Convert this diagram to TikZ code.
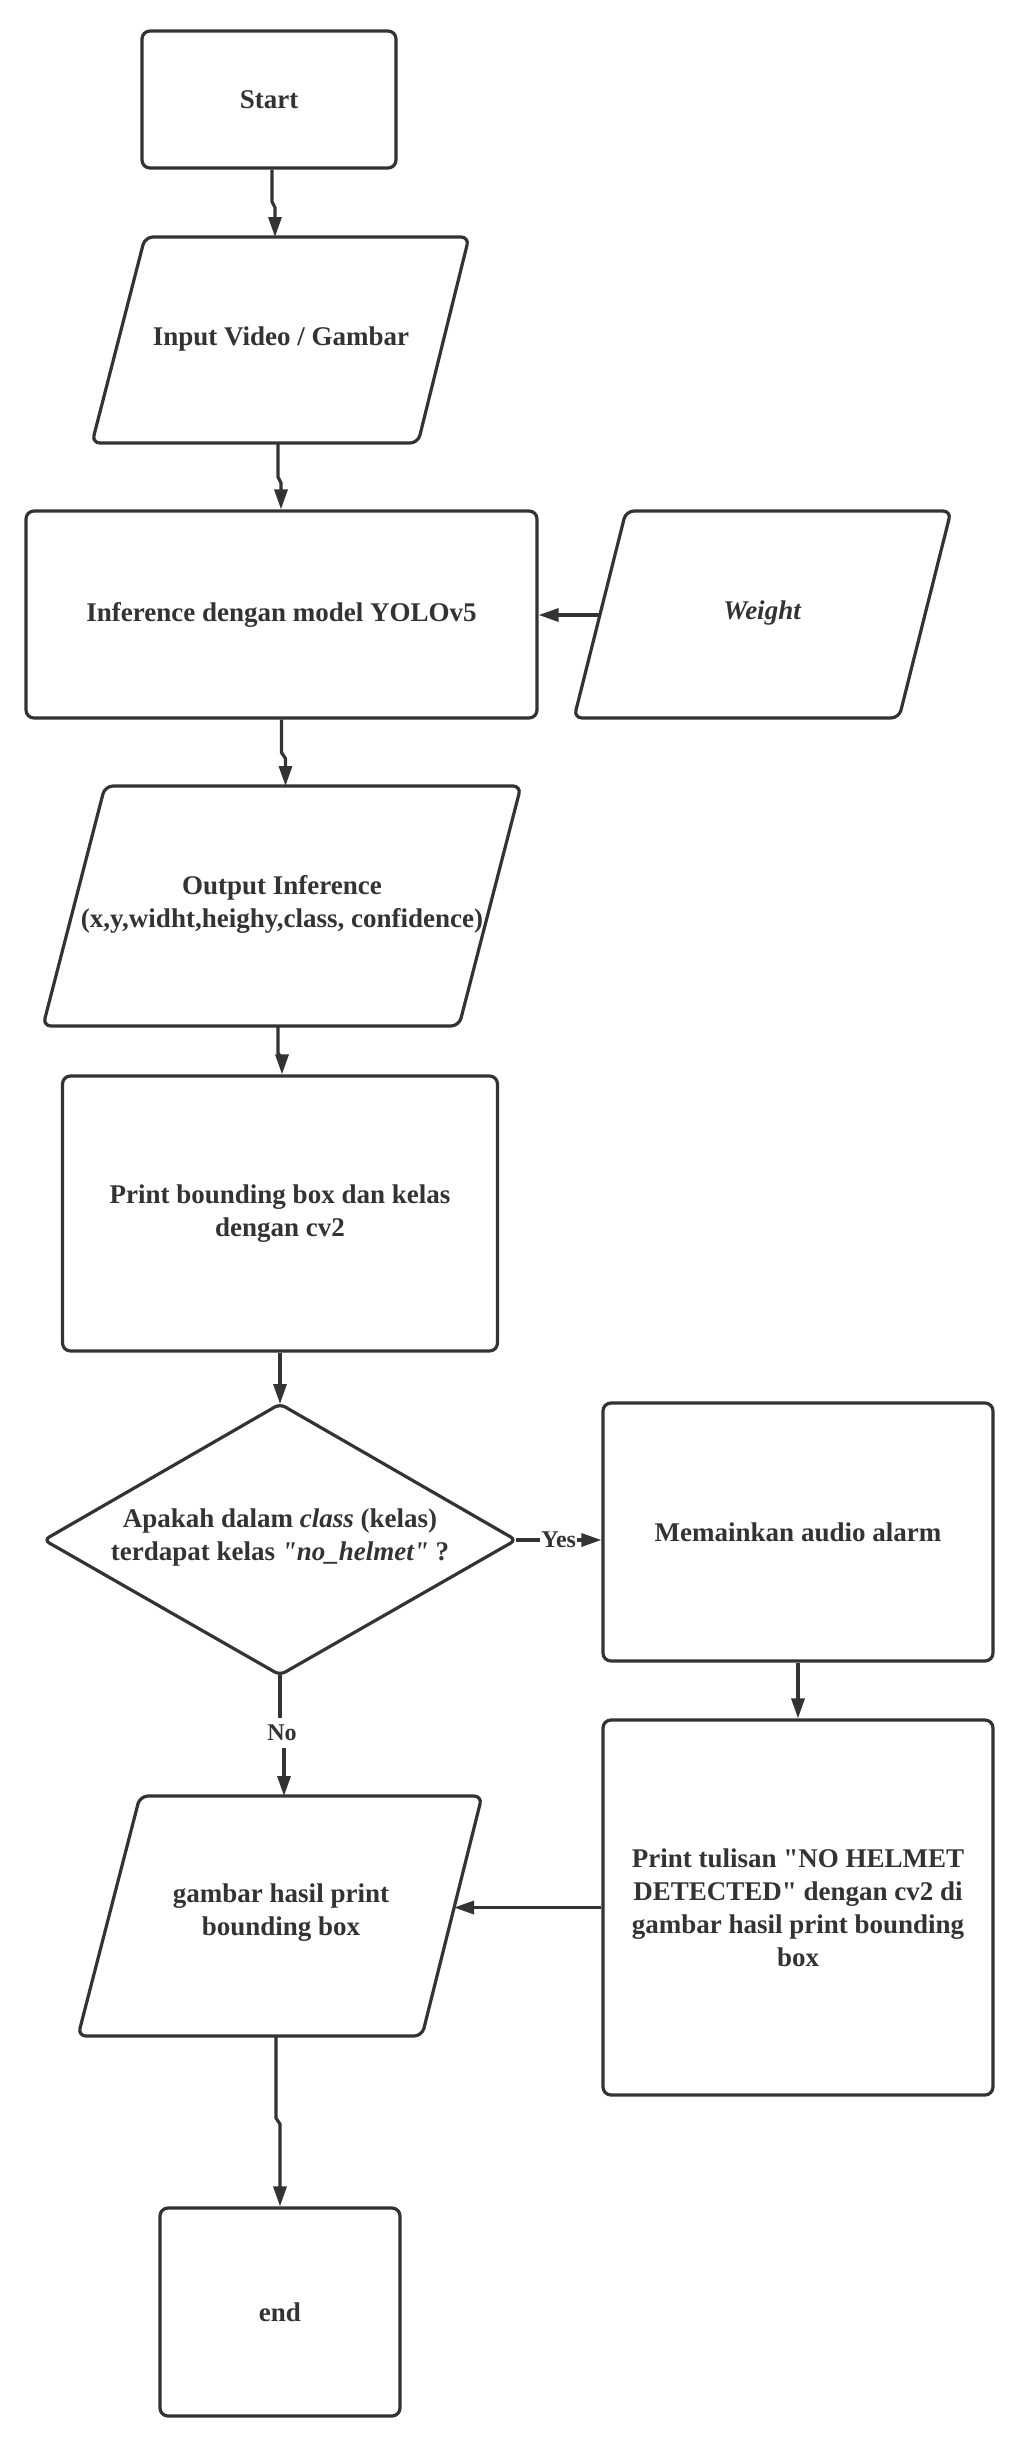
\documentclass[tikz,border=0pt]{standalone}
\usepackage{fontspec}
\setmainfont{Liberation Serif}[Ligatures=TeXOff]
\usetikzlibrary{arrows.meta,calc}
\definecolor{ink}{HTML}{333333}
\begin{document}
\begin{tikzpicture}[x=1pt,y=-1pt,
  every node/.style={text=ink, font=\fontsize{27}{33}\selectfont\bfseries, align=center},
  box/.style={draw=ink, line width=3.2pt, rounded corners=8pt, inner sep=0pt},
  shp/.style={draw=ink, line width=3.2pt, rounded corners=8pt},
  arr/.style={draw=ink, line width=3.2pt, -{Triangle[length=20pt,width=13pt]}},
  lbl/.style={fill=white, inner xsep=1pt, inner ysep=7pt, font=\fontsize{24}{28}\selectfont\bfseries}]
\useasboundingbox (0,0) rectangle (1020,2446);
\fill[white] (0,0) rectangle (1020,2446);

% Start
\node[box, minimum width=254pt, minimum height=137pt] (start) at (269,99.5) {Start};

% Input parallelogram
\draw[shp] (307,237) -- (469,237) -- (418,443) -- (92,443) -- (145,237) -- cycle;
\node (input) at (281,339) {Input Video / Gambar};
\coordinate (inputN) at (275,237);
\draw[arr] ($(start.south)+(3,0)$) -- ++(0,32) -- ++(3,6) -- (inputN);

% Inference
\node[box, minimum width=511pt, minimum height=207pt] (infer) at (281.5,614.5) {Inference dengan model YOLOv5};
\coordinate (inputS) at (278,443);
\draw[arr] (inputS) -- ++(0,34) -- ++(3,6) -- (infer.north -| {$(inputS)+(3,0)$});

% Weight
\draw[shp] (788,511) -- (951,511) -- (899,718) -- (574,718) -- (626,511) -- cycle;
\node (weight) at (762,613) {\itshape Weight};
\coordinate (weightW) at (600,615);
\draw[arr] (weightW) -- (infer.east |- weightW);

% Output parallelogram
\draw[shp] (313,786) -- (521,786) -- (459,1026) -- (43,1026) -- (105,786) -- cycle;
\node (output) at (282,904) {Output Inference\\(x,y,widht,heighy,class, confidence)};
\coordinate (outN) at (285.5,786);
\draw[arr] (infer.south) -- ++(0,33) -- ++(4,6) -- (outN);
\coordinate (outS) at (278,1026);

% Print bounding box
\node[box, minimum width=435pt, minimum height=275pt] (print) at (280,1213.5) {Print bounding box dan kelas\\dengan cv2};
\draw[arr] (outS) -- ++(0,27) -- ++(4,6) -- ($(print.north)+(2,0)$);

% Decision diamond
\draw[shp, rounded corners=6pt] (162,1472) -- (280,1404) -- (516,1540) -- (280,1675) -- (44,1540) -- cycle;
\node (decide) at (280,1537) {Apakah dalam \textit{class} (kelas)\\terdapat kelas \textit{"no\_helmet"} ?};
\coordinate (dN) at (280,1404);
\coordinate (dE) at (516,1540);
\coordinate (dS) at (280,1675);
\draw[arr] (print.south) -- (dN);

% Alarm
\node[box, minimum width=390pt, minimum height=258pt] (alarm) at (798,1532) {Memainkan audio alarm};
\draw[arr] (dE) -- node[lbl] {Yes} (alarm.west |- dE);

% Notification
\node[box, minimum width=390pt, minimum height=375pt] (notif) at (798,1907.5) {Print tulisan "NO HELMET\\DETECTED" dengan cv2 di\\gambar hasil print bounding\\box};
\draw[arr] (alarm.south) -- (notif.north);

% Gambar parallelogram
\draw[shp] (311,1796) -- (482,1796) -- (422,2036) -- (78,2036) -- (140,1796) -- cycle;
\node (gambar) at (281,1913) {gambar hasil print\\bounding box};
\coordinate (gambarE) at (454,1907.5);
\coordinate (gambarN) at (284,1796);
\coordinate (gambarS) at (276,2036);
\draw[arr] (notif.west) -- (gambarE);

% No branch
\draw[arr] (dS) -- ++(0,58) coordinate (nomid) -- ++(4,0) -- (gambarN);
\node[lbl] at ($(nomid)+(2,0)$) {No};

% End
\node[box, minimum width=240pt, minimum height=208pt] (fin) at (280,2312) {end};
\draw[arr] (gambarS) -- ++(0,82) -- ++(4,6) -- (fin.north);
\end{tikzpicture}
\end{document}
